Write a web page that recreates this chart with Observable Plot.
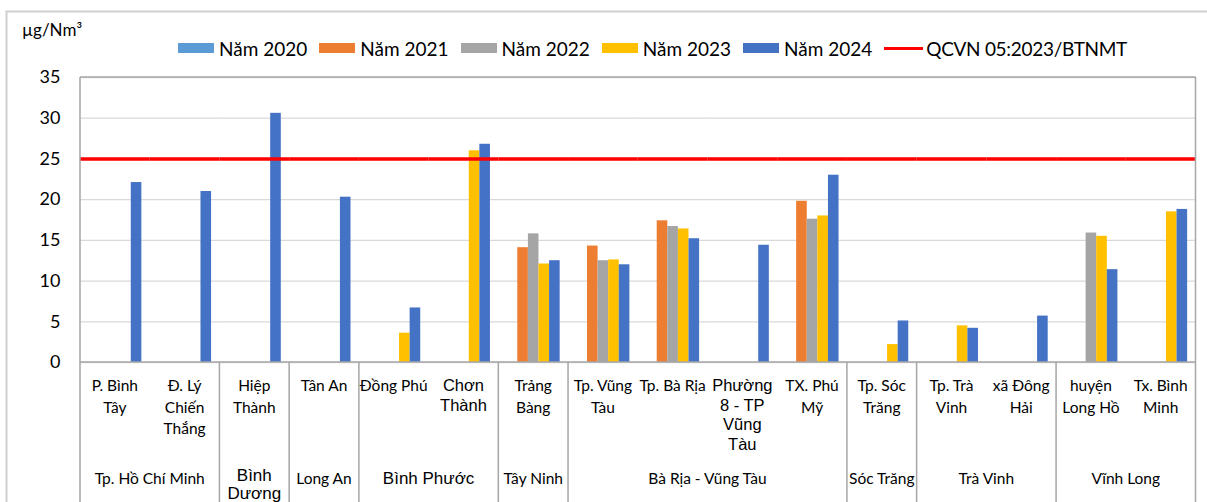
<!DOCTYPE html>
<html>
<head>
<meta charset="utf-8">
<script src="https://cdn.jsdelivr.net/npm/d3@7"></script>
<script src="https://cdn.jsdelivr.net/npm/@observablehq/plot@0.6"></script>
<style>
  body { margin: 0; background: #fff; font-family: Lato, sans-serif; color: #000; }
  #wrap { position: relative; width: 1207px; height: 502px; overflow: hidden; background: #fff; }
  #chart { position: absolute; left: 0; top: 0; }
  #legend { position: absolute; left: 178px; top: 37px; height: 22px; display: flex; align-items: center; font-size: 19px; white-space: nowrap; }
  .item { display: flex; align-items: center; margin-right: 12px; }
  .sw { width: 36px; height: 10px; margin-right: 5px; }
  .ln { width: 39px; height: 3px; background: #ff0000; margin-right: 3px; }
  .qc { letter-spacing: -0.3px; }
  #unit { position: absolute; left: 22px; top: 19px; font-size: 17px; line-height: 22px; white-space: nowrap; }
</style>
</head>
<body>
<div id="wrap">
  <div id="chart"></div>
  <div id="legend"></div>
  <div id="unit">µg/Nm³</div>
</div>
<script>
// ---------- data ----------
const sites = ["P. Bình Tây", "Đ. Lý Chiến Thắng", "Hiệp Thành", "Tân An", "Đồng Phú", "Chơn Thành",
  "Trảng Bàng", "Tp. Vũng Tàu", "Tp. Bà Rịa", "Phường 8 - TP Vũng Tàu", "TX. Phú Mỹ",
  "Tp. Sóc Trăng", "Tp. Trà Vinh", "xã Đông Hải", "huyện Long Hồ", "Tx. Bình Minh"];
const siteLabels = [["P. Bình", "Tây"], ["Đ. Lý", "Chiến", "Thắng"], ["Hiệp", "Thành"], ["Tân An"], ["Đồng Phú"],
  ["Chơn", "Thành"], ["Trảng", "Bàng"], ["Tp. Vũng", "Tàu"], ["Tp. Bà Rịa"], ["Phường", "8 - TP", "Vũng", "Tàu"],
  ["TX. Phú", "Mỹ"], ["Tp. Sóc", "Trăng"], ["Tp. Trà", "Vinh"], ["xã Đông", "Hải"], ["huyện", "Long Hồ"], ["Tx. Bình", "Minh"]];
const provinces = ["Tp. Hồ Chí Minh", "Bình Dương", "Long An", "Bình Phước", "Tây Ninh", "Bà Rịa - Vũng Tàu", "Sóc Trăng", "Trà Vinh", "Vĩnh Long"];
const provinceLabels = [["Tp. Hồ Chí Minh"], ["Bình", "Dương"], ["Long An"], ["Bình Phước"], ["Tây Ninh"], ["Bà Rịa - Vũng Tàu"], ["Sóc Trăng"], ["Trà Vinh"], ["Vĩnh Long"]];
const siteProvince = [0, 0, 1, 2, 3, 3, 4, 5, 5, 5, 5, 6, 7, 7, 8, 8];
const arialSites = ["Chơn Thành", "Phường 8 - TP Vũng Tàu"];
const arialProvinces = ["Bình Dương", "Bình Phước"];

const years = ["Năm 2020", "Năm 2021", "Năm 2022", "Năm 2023", "Năm 2024"];
const v2020 = [null, null, null, null, null, null, null, null, null, null, null, null, null, null, null, null];
const v2021 = [null, null, null, null, null, null, 14.1, 14.3, 17.4, null, 19.8, null, null, null, null, null];
const v2022 = [null, null, null, null, null, null, 15.8, 12.5, 16.7, null, 17.6, null, null, null, 15.9, null];
const v2023 = [null, null, null, null, 3.6, 26.0, 12.1, 12.6, 16.4, null, 18.0, 2.2, 4.5, null, 15.5, 18.5];
const v2024 = [22.1, 21.0, 30.6, 20.3, 6.7, 26.8, 12.5, 12.0, 15.2, 14.4, 23.0, 5.1, 4.2, 5.7, 11.4, 18.8];
const series = [v2020, v2021, v2022, v2023, v2024];
const limit = 25;
const limitLabel = "QCVN 05:2023/BTNMT";
const yTicks = [0, 5, 10, 15, 20, 25, 30, 35];
const colors = ["#5B9BD5", "#ED7D31", "#A5A5A5", "#FFC000", "#4472C4"];

const data = [];
series.forEach((vals, yi) => vals.forEach((v, si) => {
  if (v != null) data.push({site: sites[si], year: years[yi], value: v});
}));

// ---------- chart ----------
const plot = Plot.plot({
  width: 1207, height: 502,
  marginLeft: 80, marginRight: 11.5, marginTop: 77, marginBottom: 140,
  style: {fontFamily: "Lato, sans-serif", background: "transparent", color: "#000"},
  fx: {domain: sites, padding: 0, round: false, axis: null},
  x: {domain: years, paddingInner: 0, paddingOuter: 0.79, round: false, axis: null},
  y: {domain: [0, 35], axis: null},
  color: {domain: years, range: colors},
  marks: [
    Plot.gridY(yTicks, {stroke: "#d9d9d9", strokeOpacity: 1, strokeWidth: 1.3}),
    Plot.barY(data, {fx: "site", x: "year", y: "value", fill: "year"}),
    Plot.ruleY([limit], {stroke: "#ff0000", strokeWidth: 3.5}),
    Plot.axisY(yTicks, {tickSize: 0, tickPadding: 20, fontSize: 18, fill: "#000", label: null})
  ]
});
document.getElementById("chart").appendChild(plot);

// ---------- category table, borders (positions from Plot scales) ----------
const fx = plot.scale("fx");
const ys = plot.scale("y");
const bw = fx.bandwidth;
const x0 = fx.apply(sites[0]);
const x1 = fx.apply(sites[sites.length - 1]) + bw;
const yTop = ys.apply(35), yBase = ys.apply(0);
const svg = d3.select(plot);
const g = svg.append("g");
const gray = "#a6a6a6";

// outer chart frame
g.append("path").attr("d", `M6.5,502V11.5H1207`).attr("fill", "none").attr("stroke", "#d0d0d0").attr("stroke-width", 2);
// plot area border
g.append("line").attr("x1", x0).attr("x2", x1).attr("y1", yTop).attr("y2", yTop).attr("stroke", gray).attr("stroke-width", 1.5);
g.append("line").attr("x1", x0).attr("x2", x1).attr("y1", yBase).attr("y2", yBase).attr("stroke", gray).attr("stroke-width", 1.5);
g.append("line").attr("x1", x0).attr("x2", x0).attr("y1", yTop).attr("y2", 502).attr("stroke", gray).attr("stroke-width", 1.5);
g.append("line").attr("x1", x1).attr("x2", x1).attr("y1", yTop).attr("y2", 502).attr("stroke", gray).attr("stroke-width", 1.5);

// province separators
for (let i = 1; i < sites.length; i++) {
  if (siteProvince[i] !== siteProvince[i - 1]) {
    const xs = fx.apply(sites[i]);
    g.append("line").attr("x1", xs).attr("x2", xs).attr("y1", yBase).attr("y2", 502).attr("stroke", gray).attr("stroke-width", 1.5);
  }
}

function multiText(x, yFirst, lines, lh, arial, size) {
  const t = g.append("text").attr("text-anchor", "middle").attr("fill", "#000")
    .attr("font-family", arial ? "'Liberation Sans', Arial, sans-serif" : "Lato, sans-serif")
    .attr("font-size", size).attr("dominant-baseline", "central");
  lines.forEach((l, i) => t.append("tspan").attr("x", x).attr("y", yFirst + i * lh).text(l));
}

sites.forEach((s, i) => {
  const cx = fx.apply(s) + bw / 2;
  const ar = arialSites.includes(s);
  multiText(cx, yBase + 23, siteLabels[i], ar ? 19.5 : 21.7, ar, ar ? 16.5 : 15.5);
});

provinces.forEach((p, pi) => {
  const members = sites.filter((s, i) => siteProvince[i] === pi);
  const a = fx.apply(members[0]);
  const b = fx.apply(members[members.length - 1]) + bw;
  const ar = arialProvinces.includes(p);
  multiText((a + b) / 2, yBase + (ar && provinceLabels[pi].length > 1 ? 113 : 115.5), provinceLabels[pi], 18, ar, ar ? 17 : 15.5);
});

// ---------- legend ----------
const legend = d3.select("#legend");
years.forEach((yname, i) => {
  const it = legend.append("div").attr("class", "item");
  it.append("div").attr("class", "sw").style("background", colors[i]);
  it.append("span").text(yname);
});
const li = legend.append("div").attr("class", "item");
li.append("div").attr("class", "ln");
li.append("span").attr("class", "qc").text(limitLabel);
</script>
</body>
</html>
